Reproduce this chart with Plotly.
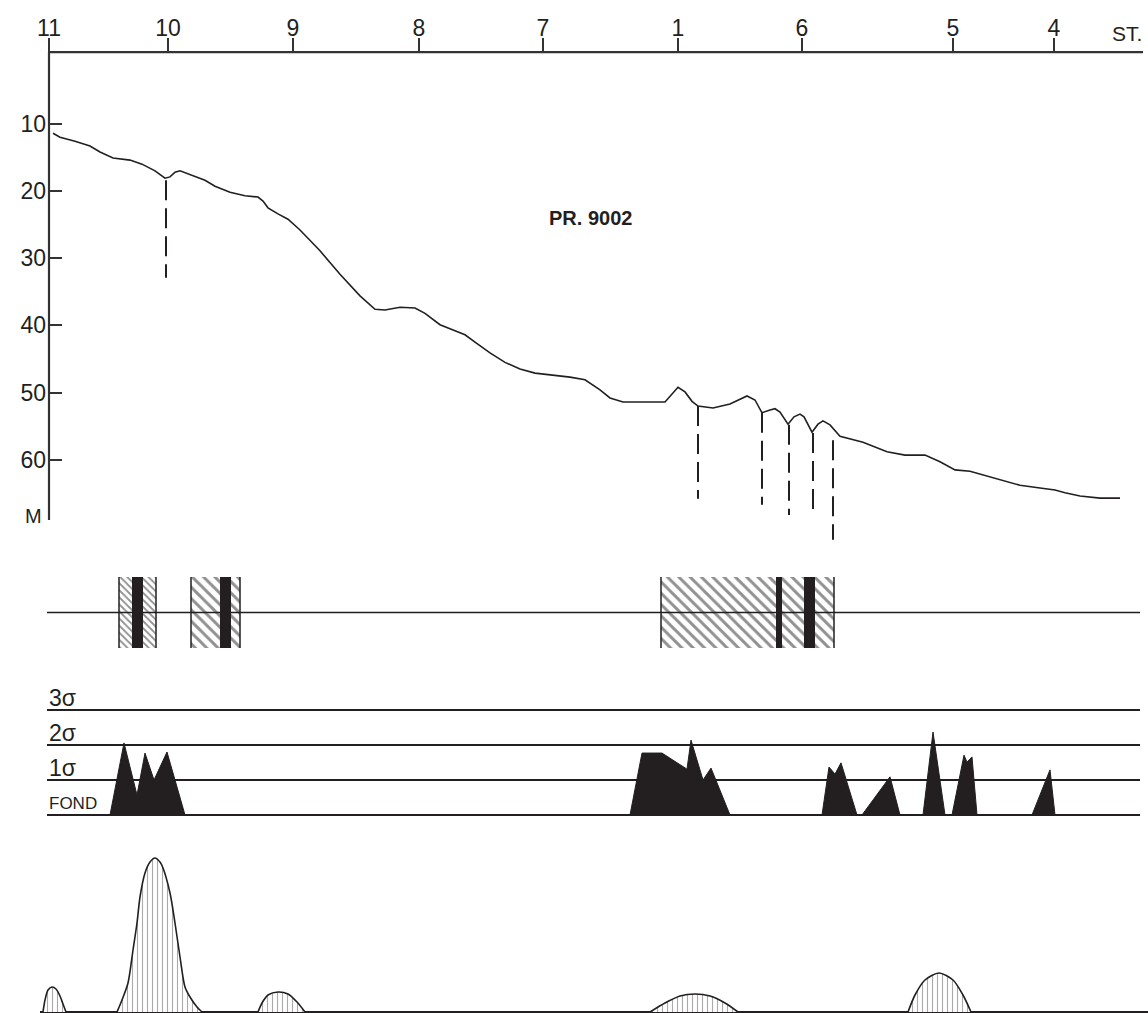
import plotly.graph_objects as go

W, H = 1148, 1013
FONT = "Liberation Sans"
INK = "#231f20"

# ---------------- data ----------------
# stations along the profile (distance units along PR. 9002)
station_labels = ["11", "10", "9", "8", "7", "1", "6", "5", "4"]
station_dist = [0.0, 11.9, 24.4, 37.0, 49.4, 62.9, 75.3, 90.4, 100.5]

# bathymetric profile: distance vs depth (m)
profile_dist = [0.4, 1.1, 2.6, 4.1, 5.1, 6.4, 8.1, 9.3, 10.6, 11.6, 12.1, 12.6, 13.1,
                14.1, 15.1, 15.6, 16.6, 18.1, 19.6, 20.9, 21.4, 21.9, 22.9, 23.9, 25.1,
                27.1, 29.1, 31.1, 32.6, 33.6, 35.1, 36.6, 37.6, 39.1, 40.6, 41.6, 42.6,
                44.1, 45.6, 47.1, 48.6, 50.6, 52.1, 53.6, 55.1, 56.1, 57.4, 61.6, 62.2,
                62.9, 63.6, 64.3, 64.9, 66.4, 68.1, 69.8, 70.6, 71.3, 72.1, 72.6, 73.1,
                73.9, 74.5, 75.1, 75.5, 76.3, 76.9, 77.4, 78.1, 79.1, 81.4, 83.8, 85.6,
                87.6, 89.1, 90.6, 92.1, 93.6, 95.1, 97.1, 99.1, 100.6, 101.6, 103.1,
                105.1, 107.1]
profile_depth = [11.4, 12.0, 12.6, 13.3, 14.2, 15.1, 15.4, 16.0, 17.0, 18.1, 17.9, 17.2,
                 17.0, 17.6, 18.1, 18.4, 19.3, 20.2, 20.7, 20.9, 21.5, 22.5, 23.4, 24.2,
                 25.8, 28.9, 32.4, 35.6, 37.6, 37.7, 37.3, 37.4, 38.2, 39.9, 40.8, 41.4,
                 42.5, 44.1, 45.5, 46.5, 47.1, 47.4, 47.7, 48.1, 49.6, 50.8, 51.4, 51.4,
                 50.4, 49.2, 49.9, 51.3, 52.0, 52.3, 51.7, 50.5, 51.1, 53.0, 52.6, 52.4,
                 52.9, 54.7, 53.6, 53.2, 53.6, 55.9, 54.7, 54.2, 54.8, 56.5, 57.4, 58.8,
                 59.3, 59.3, 60.3, 61.5, 61.7, 62.3, 63.0, 63.8, 64.2, 64.5, 64.9, 65.4,
                 65.7, 65.7]
depth_ticks = [10, 20, 30, 40, 50, 60]

# dashed fault marks below the sea floor
fault_dist = [11.7, 64.9, 71.3, 74.0, 76.4, 78.4]
fault_top = [18.4, 52.0, 53.0, 54.8, 56.0, 57.1]
fault_bottom = [32.9, 65.8, 66.7, 68.2, 68.5, 71.9]

# hatched zones and black cores
zone_start = [7.0, 14.2, 61.2]
zone_end = [10.7, 19.1, 78.5]
zone_hatch = [5, 8, 8]
core_start = [8.3, 17.1, 72.7, 75.5]
core_end = [9.4, 18.2, 73.3, 76.6]

# anomaly levels (in sigma above background)
sigma_levels = [0, 1, 2, 3]
sigma_labels = ["FOND", "1σ", "2σ", "3σ"]
anomaly_dist = [
    [6.1, 7.5, 8.8, 9.6, 10.5, 11.8, 13.6],
    [58.1, 59.3, 61.3, 63.8, 64.2, 65.4, 66.2, 68.1],
    [77.3, 78.0, 78.6, 79.2, 80.8],
    [81.3, 84.1, 85.1],
    [87.4, 88.4, 89.6],
    [90.3, 91.5, 91.8, 92.3, 92.8],
    [98.3, 100.1, 100.6],
]
anomaly_sigma = [
    [0, 2.06, 0.57, 1.77, 1.0, 1.8, 0],
    [0, 1.77, 1.77, 1.31, 2.14, 1.0, 1.34, 0],
    [0, 1.37, 1.17, 1.49, 0],
    [0, 1.09, 0],
    [0, 2.37, 0],
    [0, 1.71, 1.51, 1.66, 0],
    [0, 1.29, 0],
]

# lower curve: hatched bumps (relative amplitude)
bump_dist = [
    [-0.6, -0.4, -0.1, 0.3, 0.7, 1.1, 1.4, 1.7],
    [6.8, 7.3, 7.9, 8.4, 8.8, 9.1, 9.6, 10.1, 10.6, 11.1, 11.4, 12.1, 12.6, 13.1, 13.6, 14.1, 14.8, 15.3],
    [20.9, 21.3, 21.9, 22.9, 23.9, 24.8, 25.6],
    [60.1, 61.6, 63.1, 64.6, 66.1, 67.6, 68.9],
    [85.9, 86.6, 87.6, 89.0, 90.4, 91.4, 92.2],
]
bump_amp = [
    [0, 1.2, 2.2, 2.5, 2.3, 1.6, 0.8, 0],
    [0, 1.2, 2.9, 6.2, 8.9, 11.5, 13.9, 15.0, 15.4, 15.0, 14.4, 11.9, 8.9, 5.5, 2.5, 1.5, 0.5, 0],
    [0, 0.9, 1.7, 2.0, 1.8, 1.0, 0],
    [0, 0.9, 1.6, 1.8, 1.6, 0.9, 0],
    [0, 1.7, 3.2, 3.9, 3.2, 1.7, 0],
]

X_RANGE = [-4.9, 109.9]
LINE_START, LINE_END = -0.2, 109.1

# ---------------- figure ----------------
fig = go.Figure()

def py(p):
    return 1 - p / H

# depth profile
fig.add_trace(go.Scatter(x=profile_dist, y=profile_depth, mode="lines",
                         line=dict(color=INK, width=1.6), xaxis="x", yaxis="y",
                         hoverinfo="skip"))
for xd, t, b in zip(fault_dist, fault_top, fault_bottom):
    fig.add_trace(go.Scatter(x=[xd, xd], y=[t, b], mode="lines",
                             line=dict(color=INK, width=2, dash="20px,8px"),
                             xaxis="x", yaxis="y", hoverinfo="skip"))

# zones panel
fig.add_trace(go.Scatter(x=[LINE_START, LINE_END], y=[0, 0], mode="lines",
                         line=dict(color=INK, width=1.6), xaxis="x", yaxis="y2",
                         hoverinfo="skip"))
for s, e, hs in zip(zone_start, zone_end, zone_hatch):
    fig.add_trace(go.Scatter(x=[s, e, e, s, s], y=[-1, -1, 1, 1, -1], mode="lines",
                             fill="toself", fillcolor="white",
                             fillpattern=dict(shape="\\", fgcolor=INK, bgcolor="white",
                                              size=hs, solidity=0.36),
                             line=dict(width=0), xaxis="x", yaxis="y2", hoverinfo="skip"))
    for xe in (s, e):
        fig.add_trace(go.Scatter(x=[xe, xe], y=[-1, 1], mode="lines",
                                 line=dict(color=INK, width=1.5), xaxis="x", yaxis="y2",
                                 hoverinfo="skip"))
    fig.add_trace(go.Scatter(x=[s, e], y=[0, 0], mode="lines",
                             line=dict(color=INK, width=1.6), xaxis="x", yaxis="y2",
                             hoverinfo="skip"))
for s, e in zip(core_start, core_end):
    fig.add_trace(go.Scatter(x=[s, e, e, s, s], y=[-1, -1, 1, 1, -1], mode="lines",
                             fill="toself", fillcolor=INK, line=dict(width=0, color=INK),
                             xaxis="x", yaxis="y2", hoverinfo="skip"))

# sigma panel
for lvl in sigma_levels:
    fig.add_trace(go.Scatter(x=[LINE_START, LINE_END], y=[lvl, lvl], mode="lines",
                             line=dict(color=INK, width=2), xaxis="x", yaxis="y3",
                             hoverinfo="skip"))
for xs, ss in zip(anomaly_dist, anomaly_sigma):
    fig.add_trace(go.Scatter(x=xs, y=ss, mode="lines", fill="toself", fillcolor=INK,
                             line=dict(color=INK, width=1), xaxis="x", yaxis="y3",
                             hoverinfo="skip"))

# bottom panel
fig.add_trace(go.Scatter(x=[-0.9, X_RANGE[1]], y=[0, 0], mode="lines",
                         line=dict(color=INK, width=2), xaxis="x", yaxis="y4",
                         hoverinfo="skip"))
for xs, aa in zip(bump_dist, bump_amp):
    fig.add_trace(go.Scatter(x=xs, y=aa, mode="lines", fill="toself", fillcolor="white",
                             fillpattern=dict(shape="|", fgcolor="#555", bgcolor="white",
                                              size=5, solidity=0.22),
                             line=dict(color=INK, width=1.6, shape="spline", smoothing=0.8),
                             xaxis="x", yaxis="y4", hoverinfo="skip"))

# axis lines
depth_top, depth_axis_bottom = -0.68, 68.96
shapes = [
    dict(type="line", xref="x", yref="y", x0=0, x1=0, y0=depth_top, y1=depth_axis_bottom,
         line=dict(color="#333", width=2.2)),
    dict(type="line", xref="x", yref="y", x0=0, x1=109.4, y0=depth_top, y1=depth_top,
         line=dict(color="#333", width=2.2)),
]

annotations = [
    dict(text="<b>PR. 9002</b>", x=54.1, y=24.0, xref="x", yref="y", showarrow=False,
         font=dict(size=20, family=FONT, color=INK)),
    dict(text="ST.", x=109.5, y=py(47), xref="x", yref="paper", showarrow=False,
         xanchor="right", yanchor="bottom",
         font=dict(size=21, family=FONT, color=INK)),
    dict(text="M", x=-0.5, y=68.3, xref="x", yref="y", showarrow=False, xanchor="right",
         font=dict(size=20, family=FONT, color=INK)),
]
label_offsets = [0.34, 0.33, 0.33, 0.33]
label_sizes = [17, 23, 23, 23]
for lvl, lab, off, sz in zip(sigma_levels, sigma_labels, label_offsets, label_sizes):
    annotations.append(dict(text=lab, x=-0.25, y=lvl + off, xref="x", yref="y3",
                            xanchor="left", yanchor="middle", showarrow=False,
                            font=dict(size=sz, family=FONT, color=INK)))

fig.update_layout(
    width=W, height=H, margin=dict(l=0, r=0, t=0, b=0),
    paper_bgcolor="white", plot_bgcolor="white", showlegend=False,
    font=dict(family=FONT, color=INK),
    shapes=shapes, annotations=annotations,
    xaxis=dict(domain=[0, 1], range=X_RANGE, side="top", anchor="free", position=py(52),
               tickmode="array", tickvals=station_dist, ticktext=station_labels,
               ticks="outside", ticklen=14, tickwidth=2, tickcolor="#333",
               ticklabelstandoff=-7,
               tickfont=dict(size=23, family=FONT, color=INK),
               showgrid=False, zeroline=False, showline=False, fixedrange=True),
    yaxis=dict(domain=[py(545), py(38)], range=[72.68, -2.77], anchor="free",
               position=49 / W, tickmode="array", tickvals=depth_ticks,
               ticks="inside", ticklen=12, tickwidth=2, tickcolor="#333",
               ticklabelstandoff=3,
               tickfont=dict(size=23, family=FONT, color=INK),
               showgrid=False, zeroline=False, showline=False, fixedrange=True),
    yaxis2=dict(domain=[py(648), py(577)], range=[-1, 1], visible=False, anchor="x"),
    yaxis3=dict(domain=[py(818.5), py(685.5)], range=[-0.1, 3.7], visible=False, anchor="x"),
    yaxis4=dict(domain=[0, py(847)], range=[-0.1, 16.5], visible=False, anchor="x"),
)

fig.write_html("out.html", config={"displayModeBar": False})
